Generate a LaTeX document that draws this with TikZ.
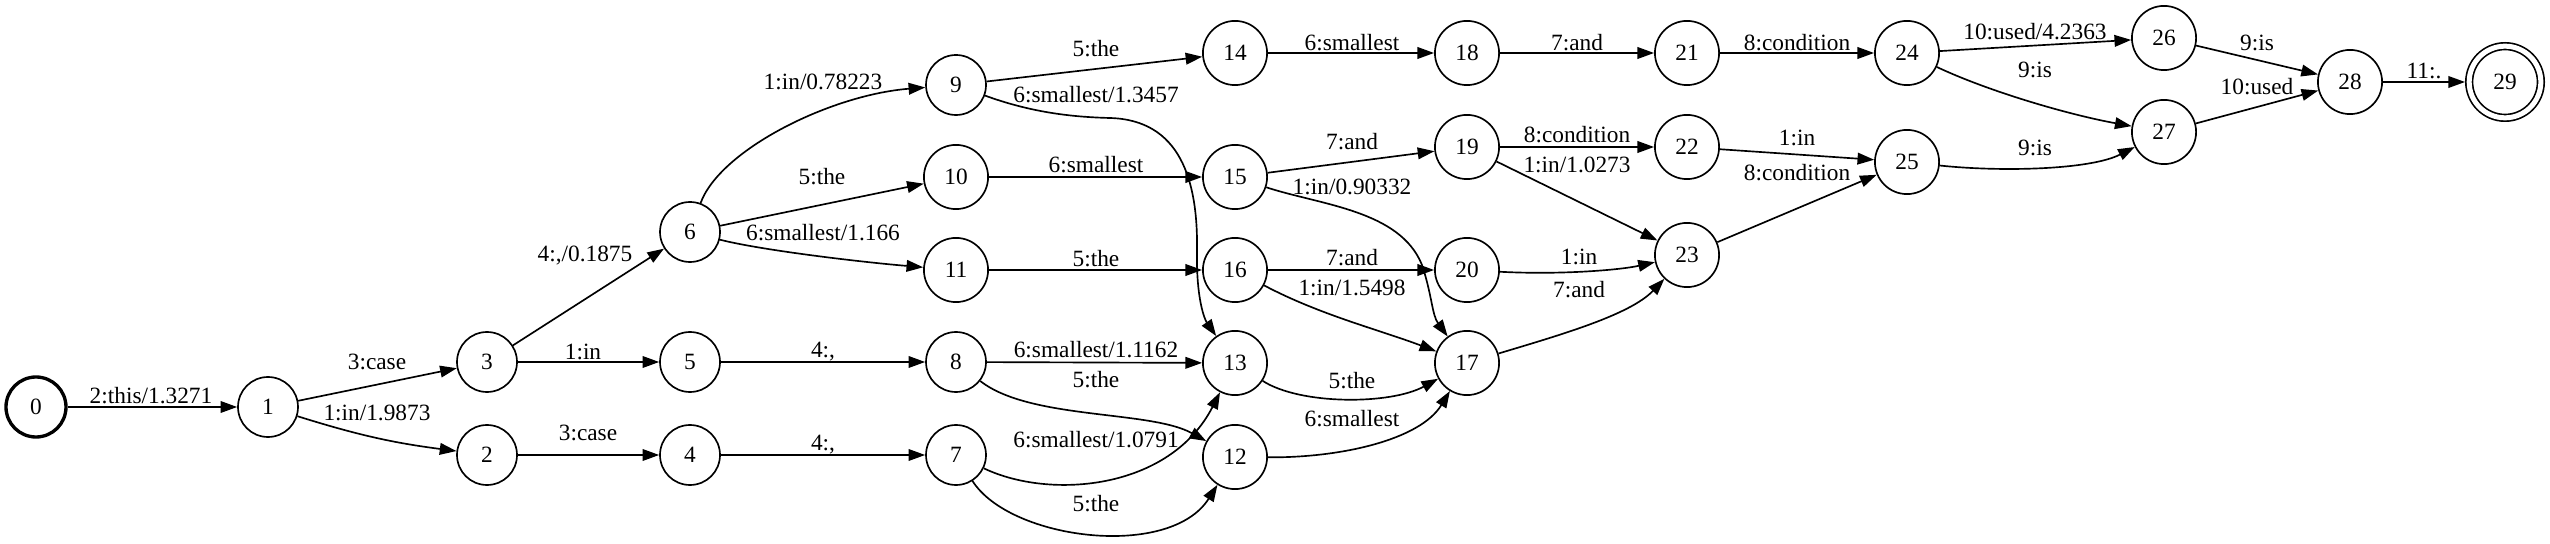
\documentclass[tikz,border=0pt]{standalone}
\usepackage{fontspec}
\setmainfont{Liberation Serif}
\usetikzlibrary{arrows.meta}
\begin{document}
\begin{tikzpicture}[x=0.6pt,y=-0.6pt,
  st/.style={circle,draw,line width=1pt,minimum size=36pt,inner sep=0pt,font=\fontsize{14}{16}\selectfont},
  stt/.style={st,minimum size=38.5pt},
  fin/.style={st,minimum size=43pt,double,double distance=3pt},
  lab/.style={inner sep=0pt,font=\fontsize{14}{16}\selectfont,text height=9.3pt,text depth=0pt},
  e/.style={-{Triangle[length=10pt,width=7pt]},line width=1pt},
]
\useasboundingbox (0,0) rectangle (2550,544);
% states
\node[st,line width=2pt] (n0) at (36,407) {0};
\node[st] (n1) at (268,407) {1};
\node[st] (n2) at (487,455) {2};
\node[st] (n3) at (487,362) {3};
\node[st] (n4) at (690,455) {4};
\node[st] (n5) at (690,362) {5};
\node[st] (n6) at (690,232) {6};
\node[st] (n7) at (956,455) {7};
\node[st] (n8) at (956,362) {8};
\node[st] (n9) at (956,85) {9};
\node[stt] (n10) at (956,177) {10};
\node[stt] (n11) at (956,270) {11};
\node[stt] (n12) at (1235,457) {12};
\node[stt] (n13) at (1235,363) {13};
\node[stt] (n14) at (1235,53) {14};
\node[stt] (n15) at (1235,177) {15};
\node[stt] (n16) at (1235,270) {16};
\node[stt] (n17) at (1467,363) {17};
\node[stt] (n18) at (1467,53) {18};
\node[stt] (n19) at (1467,147) {19};
\node[stt] (n20) at (1467,270) {20};
\node[stt] (n21) at (1687,53) {21};
\node[stt] (n22) at (1687,147) {22};
\node[stt] (n23) at (1687,255) {23};
\node[stt] (n24) at (1907,53) {24};
\node[stt] (n25) at (1907,162) {25};
\node[stt] (n26) at (2164,38) {26};
\node[stt] (n27) at (2164,132) {27};
\node[stt] (n28) at (2350,82) {28};
\node[fin] (n29) at (2505,82) {29};
% edges
\draw[e] (n0) -- (n1);
\draw[e] (n1) -- (n3);
\draw[e] (n1) to[bend right=5] (n2);
\draw[e] (n3) -- (n5);
\draw[e] (n3) -- (n6);
\draw[e] (n2) -- (n4);
\draw[e] (n5) -- (n8);
\draw[e] (n4) -- (n7);
\draw[e] (n6) .. controls (720,150) and (830,95) .. (n9);
\draw[e] (n6) -- (n10);
\draw[e] (n6) .. controls (760,250) and (860,262) .. (n11);
\draw[e] (n9) -- (n14);
\draw[e] (n9) .. controls (1030,112) and (1070,117) .. (1110,118) .. controls (1180,120) and (1198,180) .. (1197,250) .. controls (1196,300) and (1205,320) .. (n13);
\draw[e] (n10) -- (n15);
\draw[e] (n11) -- (n16);
\draw[e] (n8) -- (n13);
\draw[e] (n8) .. controls (1030,420) and (1150,410) .. (n12);
\draw[e] (n7) .. controls (1050,500) and (1170,490) .. (n13);
\draw[e] (n7) .. controls (1010,540) and (1170,560) .. (n12);
\draw[e] (n14) -- (n18);
\draw[e] (n15) -- (n19);
\draw[e] (n15) .. controls (1320,205) and (1400,210) .. (1422,265) .. controls (1432,295) and (1432,315) .. (n17);
\draw[e] (n16) -- (n20);
\draw[e] (n16) .. controls (1320,315) and (1380,330) .. (n17);
\draw[e] (n13) .. controls (1300,405) and (1390,405) .. (n17);
\draw[e] (n12) .. controls (1340,458) and (1420,440) .. (n17);
\draw[e] (n18) -- (n21);
\draw[e] (n19) -- (n22);
\draw[e] (n19) -- (n23);
\draw[e] (n20) .. controls (1560,275) and (1620,270) .. (n23);
\draw[e] (n17) .. controls (1560,335) and (1630,315) .. (n23);
\draw[e] (n21) -- (n24);
\draw[e] (n22) -- (n25);
\draw[e] (n23) -- (n25);
\draw[e] (n24) -- (n26);
\draw[e] (n24) .. controls (1990,92) and (2070,115) .. (n27);
\draw[e] (n25) .. controls (2000,172) and (2090,170) .. (n27);
\draw[e] (n26) -- (n28);
\draw[e] (n27) -- (n28);
\draw[e,shorten >=2pt] (n28) -- (n29);
% labels
\node[lab] (l0) at (151,396) {2:this/1.3271};
\node[lab] (l1) at (377,362) {3:case};
\node[lab] (l2) at (377,413) {1:in/1.9873};
\node[lab] (l3) at (583,352) {1:in};
\node[lab] (l4) at (588,433) {3:case};
\node[lab] (l5) at (585,254) {4:,/0.1875};
\node[lab] (l6) at (823,82) {1:in/0.78223};
\node[lab] (l7) at (822,177) {5:the};
\node[lab] (l8) at (823,233) {6:smallest/1.166};
\node[lab] (l9) at (823,350) {4:,};
\node[lab] (l10) at (823,443) {4:,};
\node[lab] (l11) at (1096,49) {5:the};
\node[lab] (l12) at (1096,95) {6:smallest/1.3457};
\node[lab] (l13) at (1096,165) {6:smallest};
\node[lab] (l14) at (1096,259) {5:the};
\node[lab] (l15) at (1096,350) {6:smallest/1.1162};
\node[lab] (l16) at (1096,380) {5:the};
\node[lab] (l17) at (1096,440) {6:smallest/1.0791};
\node[lab] (l18) at (1096,504) {5:the};
\node[lab] (l19) at (1352,43) {6:smallest};
\node[lab] (l20) at (1352,142) {7:and};
\node[lab] (l21) at (1352,187) {1:in/0.90332};
\node[lab] (l22) at (1352,258) {7:and};
\node[lab] (l23) at (1352,288) {1:in/1.5498};
\node[lab] (l24) at (1352,381) {5:the};
\node[lab] (l25) at (1352,419) {6:smallest};
\node[lab] (l26) at (1577,43) {7:and};
\node[lab] (l27) at (1577,135) {8:condition};
\node[lab] (l28) at (1577,165) {1:in/1.0273};
\node[lab] (l29) at (1579,257) {1:in};
\node[lab] (l30) at (1579,290) {7:and};
\node[lab] (l31) at (1797,43) {8:condition};
\node[lab] (l32) at (1797,138) {1:in};
\node[lab] (l33) at (1797,173) {8:condition};
\node[lab] (l34) at (2035,32) {10:used/4.2363};
\node[lab] (l35) at (2035,70) {9:is};
\node[lab] (l36) at (2035,148) {9:is};
\node[lab] (l37) at (2257,43) {9:is};
\node[lab] (l38) at (2257,87) {10:used};
\node[lab] (l39) at (2424,71) {11:.};
\end{tikzpicture}
\end{document}
